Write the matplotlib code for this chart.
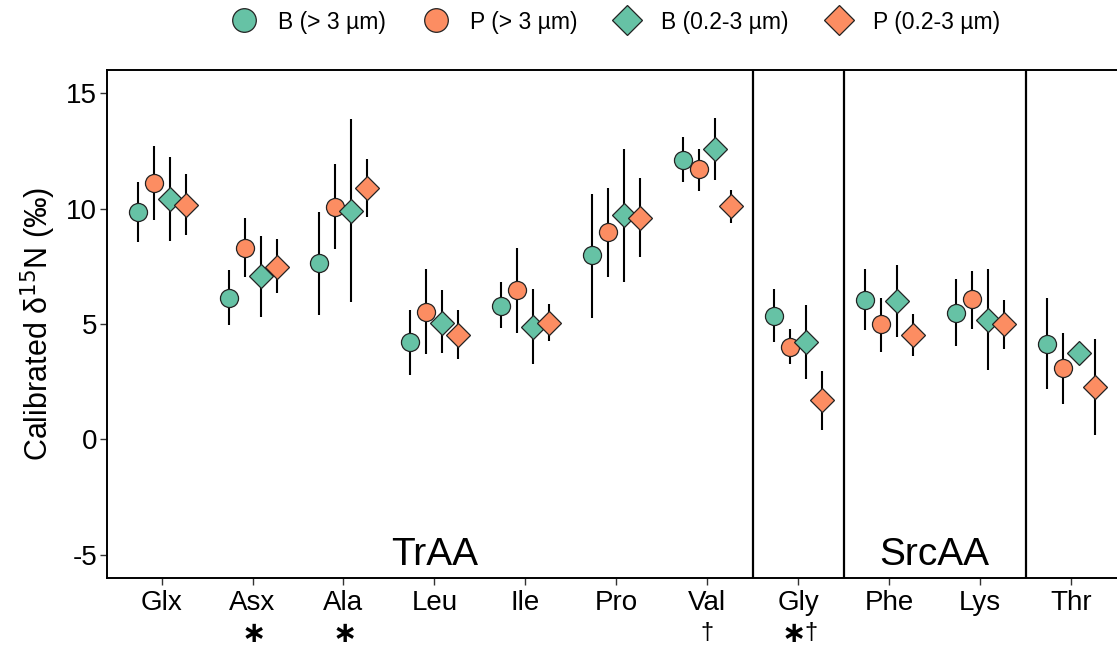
import matplotlib
matplotlib.use("Agg")
import matplotlib.pyplot as plt
from matplotlib.lines import Line2D
from matplotlib.transforms import blended_transform_factory
import numpy as np

plt.rcParams['font.family'] = ['Liberation Sans', 'DejaVu Sans']
plt.rcParams['axes.unicode_minus'] = False
plt.rcParams['mathtext.fontset'] = 'dejavusans'

categories = ["Glx", "Asx", "Ala", "Leu", "Ile", "Pro", "Val", "Gly", "Phe", "Lys", "Thr"]
series = ["B (> 3 µm)", "P (> 3 µm)", "B (0.2-3 µm)", "P (0.2-3 µm)"]

# mean values
b_large = [9.86, 6.14, 7.64, 4.20, 5.80, 7.97, 12.10, 5.35, 6.04, 5.46, 4.15]
p_large = [11.09, 8.29, 10.07, 5.52, 6.46, 8.98, 11.70, 4.00, 4.98, 6.07, 3.08]
b_small = [10.42, 7.06, 9.90, 5.06, 4.87, 9.70, 12.58, 4.20, 5.98, 5.18, 3.74]
p_small = [10.14, 7.49, 10.89, 4.53, 5.06, 9.60, 10.09, 1.69, 4.54, 4.98, 2.27]

# error bar upper/lower ends
b_large_hi = [11.15, 7.34, 9.84, 5.61, 6.82, 10.65, 13.08, 6.53, 7.37, 6.96, 6.14]
b_large_lo = [8.57, 4.95, 5.41, 2.79, 4.83, 5.26, 11.14, 4.20, 4.72, 4.03, 2.18]
p_large_hi = [12.72, 9.58, 11.91, 7.37, 8.30, 10.91, 12.59, 4.77, 6.14, 7.28, 4.63]
p_large_lo = [9.50, 7.05, 8.26, 3.68, 4.63, 7.05, 10.78, 3.25, 3.79, 4.80, 1.52]
b_small_hi = [12.23, 8.83, 13.87, 6.47, 6.50, 12.58, 13.92, 5.84, 7.57, 7.40, 3.90]
b_small_lo = [8.60, 5.32, 5.95, 3.74, 3.25, 6.82, 11.24, 2.61, 4.43, 2.99, 3.58]
p_small_hi = [11.48, 8.66, 12.15, 5.61, 5.88, 11.31, 10.79, 2.96, 5.42, 6.04, 4.37]
p_small_lo = [8.85, 6.33, 9.64, 3.48, 4.27, 7.88, 9.38, 0.42, 3.62, 3.91, 0.19]

means = [b_large, p_large, b_small, p_small]
his = [b_large_hi, p_large_hi, b_small_hi, p_small_hi]
los = [b_large_lo, p_large_lo, b_small_lo, p_small_lo]
colors = ["#66C2A5", "#FC8D62", "#66C2A5", "#FC8D62"]
markers = ["o", "o", "D", "D"]
msizes = [13, 13, 12, 12]
legend_msizes = [17, 17, 15, 15]
offsets = [-0.264, -0.088, 0.088, 0.264]

sep_positions = [7.5, 8.5, 10.5]
asterisk_cats = ["Asx", "Ala", "Gly"]
dagger_cats = ["Val", "Gly"]

fig = plt.figure(figsize=(11.17, 6.47), dpi=100)
ax = fig.add_axes([107 / 1117, 1 - 578 / 647, 1 - 107 / 1117 + 0.002, (578 - 70) / 647])

x = np.arange(1, len(categories) + 1)
for i in range(4):
    xs = x + offsets[i]
    ax.vlines(xs, los[i], his[i], color="black", linewidth=1.5, zorder=2)
for i in range(4):
    xs = x + offsets[i]
    ax.plot(xs, means[i], linestyle="none", marker=markers[i], markersize=msizes[i],
            markerfacecolor=colors[i], markeredgecolor="#222222", markeredgewidth=0.9, zorder=3)

for s in sep_positions:
    ax.axvline(s, color="black", linewidth=1.6, zorder=1)

ax.set_xlim(0.4, 11.53)
ax.set_ylim(-6, 16)
ax.set_yticks([-5, 0, 5, 10, 15])
ax.set_xticks(x)
ax.set_xticklabels(categories)
ax.tick_params(axis="both", labelsize=20, length=5, width=1, color="#333333")
ax.tick_params(axis="x", pad=4)
ax.tick_params(axis="y", pad=2)
ax.spines["right"].set_visible(False)
for sp in ["top", "left", "bottom"]:
    ax.spines[sp].set_linewidth(1.4)
ax.set_ylabel("Calibrated δ$^{15}$N (‰)", fontsize=22, labelpad=6)

ax.text(4, -5, "TrAA", fontsize=28, ha="center", va="center")
ax.text(9.5, -5, "SrcAA", fontsize=28, ha="center", va="center")

trans = blended_transform_factory(ax.transData, fig.transFigure)
for c in asterisk_cats:
    idx = categories.index(c) + 1
    xpos = idx - 0.06 if c in dagger_cats else idx
    ax.text(xpos, 1 - 634 / 647, r"$\mathbf{\ast}$", transform=trans, fontsize=21,
            ha="center", va="center")
for c in dagger_cats:
    idx = categories.index(c) + 1
    xpos = idx + 0.14 if c in asterisk_cats else idx
    ax.text(xpos, 1 - 633 / 647, "†", transform=trans, fontsize=17,
            ha="center", va="center")

handles = [Line2D([0], [0], linestyle="none", marker=markers[i], markersize=legend_msizes[i],
                  markerfacecolor=colors[i], markeredgecolor="#222222", markeredgewidth=0.9)
           for i in range(4)]
fig.legend(handles, series, loc="center", bbox_to_anchor=(614 / 1117, 1 - 22 / 647), ncol=4,
           frameon=False, fontsize=16.5, handletextpad=0.78, columnspacing=1.48, handlelength=1.4)

fig.savefig("out.png", dpi=100)
